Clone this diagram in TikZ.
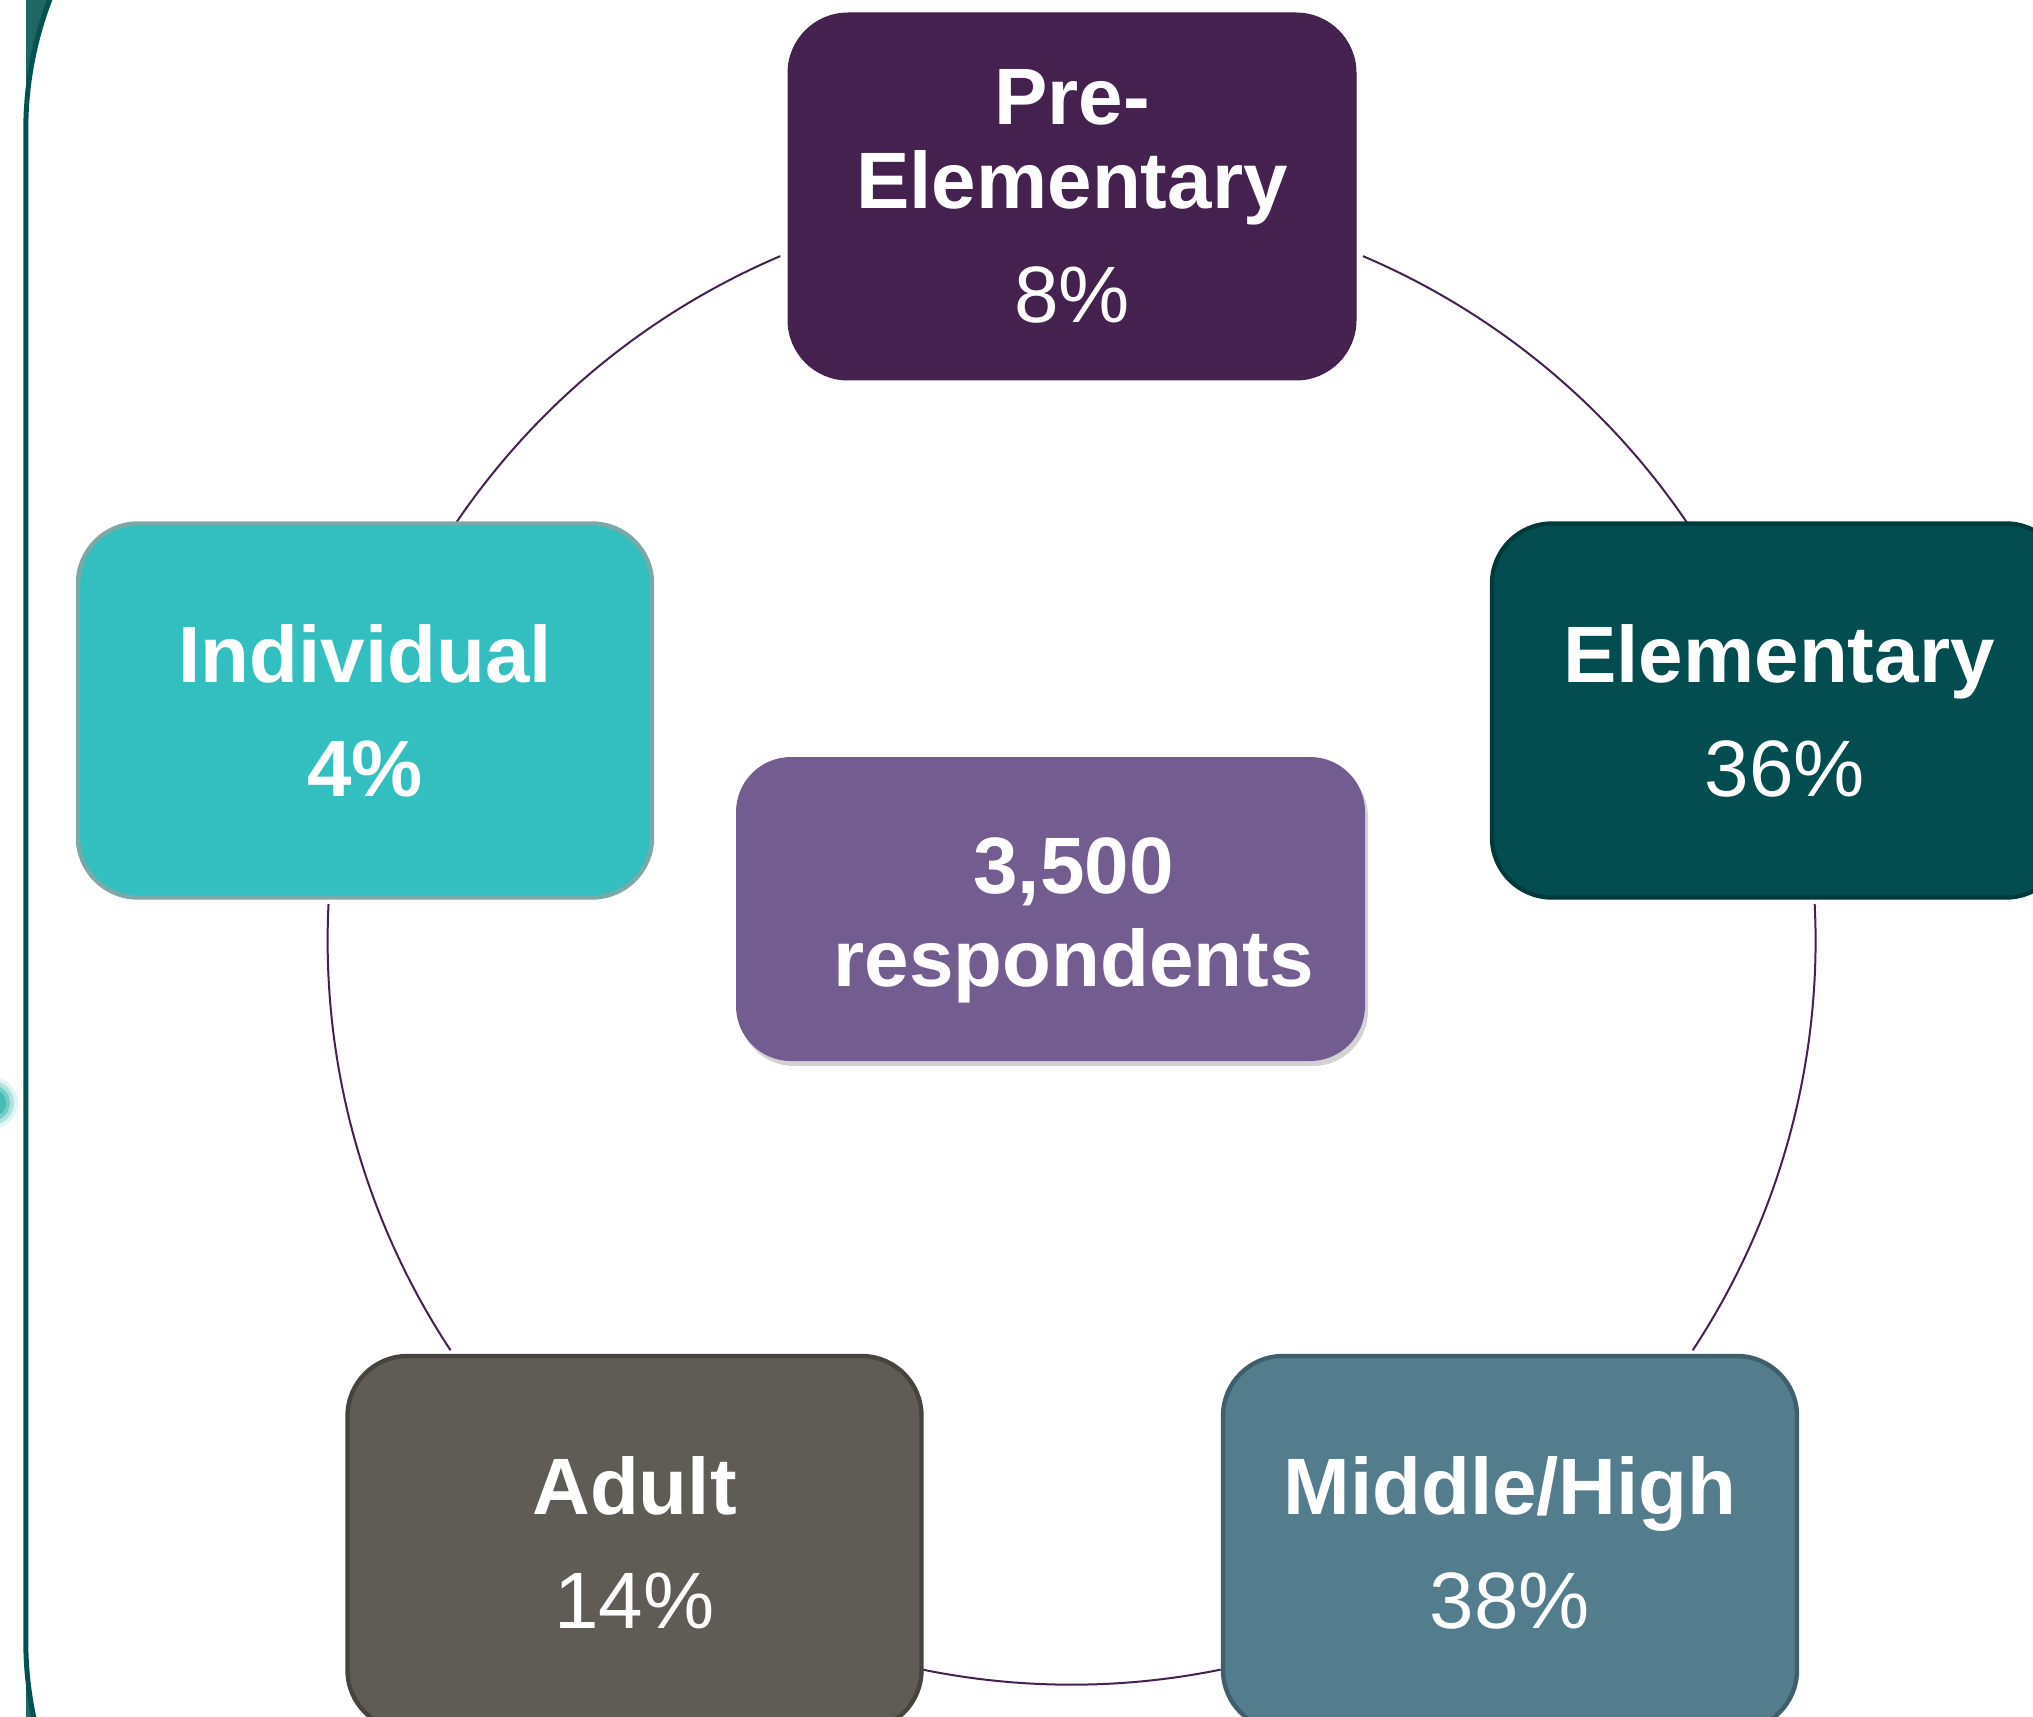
\documentclass[tikz,border=0pt]{standalone}
\usepackage{fontspec}
\setmainfont{Liberation Sans}
\usetikzlibrary{shadows}
\definecolor{preC}{HTML}{45214F}
\definecolor{elemC}{HTML}{034D51}
\definecolor{elemB}{HTML}{023A3C}
\definecolor{indC}{HTML}{33BFC0}
\definecolor{indB}{HTML}{7BA9A8}
\definecolor{adultC}{HTML}{5E5C54}
\definecolor{adultB}{HTML}{46443D}
\definecolor{midC}{HTML}{537C8C}
\definecolor{midB}{HTML}{3F5F6D}
\definecolor{centC}{HTML}{735C90}
\definecolor{frameC}{HTML}{05514F}
\definecolor{cornerC}{HTML}{1E6762}
\definecolor{blobC}{HTML}{3DB7AE}
\begin{document}
\begin{tikzpicture}[x=0.5pt,y=-0.5pt,
  box/.style={rectangle, rounded corners=30pt, minimum width=287pt, minimum height=187pt,
    line width=2.2pt, text=white, align=center, inner sep=0pt,
    font=\fontsize{40}{42}\selectfont},
  ring/.style={draw=preC, line width=1pt}]
\useasboundingbox (0,0) rectangle (2033,1717);
\clip (0,0) rectangle (2033,1717);
% slide frame
\fill[cornerC] (25.8,-50) rectangle (450,1800);
\filldraw[fill=white, draw=frameC, line width=2.5pt, rounded corners=182pt] (25.8,-234) rectangle (2400,2005);
% left bullet fragment (blurred)
\foreach \r/\o in {26/0.15,22/0.3,18/0.5,14/0.8}
  \fill[blobC, opacity=\o] (-8,1103) circle[radius=\r];
% ring
\coordinate (O) at (1071.6,940.7);
\draw[ring] (O) ++(-66.95:744) arc[start angle=-66.95, end angle=-34.23, radius=744];
\draw[ring] (O) ++(-2.83:744) arc[start angle=-2.83, end angle=33.4, radius=744];
\draw[ring] (O) ++(78.44:744) arc[start angle=78.44, end angle=101.5, radius=744];
\draw[ring] (O) ++(146.6:744) arc[start angle=146.6, end angle=182.83, radius=744];
\draw[ring] (O) ++(-113.05:744) arc[start angle=-113.05, end angle=-145.77, radius=744];
% boxes
\node[box, fill=preC, draw=preC, line width=0.5pt, minimum width=284pt, minimum height=183.5pt] (pre) at (1072,196.5)
  {\textbf{Pre-}\\\textbf{Elementary}\\[15pt]8\%};
\node[box, fill=elemC, draw=elemB] (elem) at (1779,710.5)
  {\textbf{Elementary}\\[15pt]\hspace*{6pt}36\%};
\node[box, fill=indC, draw=indB] (ind) at (365,710.5)
  {\textbf{Individual}\\[15pt]\textbf{4\%}};
\node[box, fill=adultC, draw=adultB] (adult) at (634.5,1543)
  {\textbf{Adult}\\[15pt]14\%};
\node[box, fill=midC, draw=midB] (mid) at (1510,1543)
  {\textbf{Middle/High}\\[15pt]38\%};
\node[box, fill=centC, draw=none, rounded corners=27.5pt, minimum width=314.5pt, minimum height=152pt,
  drop shadow={shadow xshift=1.5pt, shadow yshift=-2.5pt, opacity=0.35}, font=\fontsize{40}{46.5}\selectfont] (cent) at (1050.5,909)
  {\rule{0pt}{39pt}\hspace*{23pt}\textbf{3,500}\\\hspace*{23pt}\textbf{respondents}};
\end{tikzpicture}
\end{document}
